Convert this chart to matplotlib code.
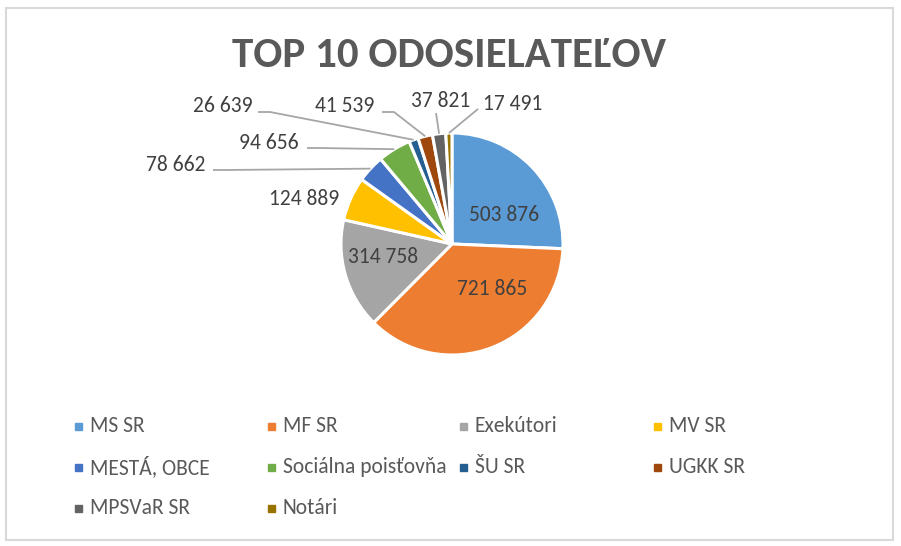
import matplotlib.pyplot as plt
import matplotlib.patches as mpatches
import numpy as np

# data
labels = ['MS SR', 'MF SR', 'Exekútori', 'MV SR', 'MESTÁ, OBCE',
          'Sociálna poisťovňa', 'ŠU SR', 'UGKK SR', 'MPSVaR SR', 'Notári']
values = [503876, 721865, 314758, 124889, 78662, 94656, 26639, 41539, 37821, 17491]
colors = ['#5B9BD5', '#ED7D31', '#A5A5A5', '#FFC000', '#4472C4',
          '#70AD47', '#255E91', '#9E480E', '#636363', '#997300']
value_text = [f'{v:,}'.replace(',', ' ') for v in values]

W, H = 901, 546
plt.rcParams['font.family'] = ['Carlito', 'DejaVu Sans']

fig = plt.figure(figsize=(W / 100, H / 100), dpi=100)
ax = fig.add_axes([0, 0, 1, 1])

cx, cy, r = 452, H - 244, 111
wedges, _ = ax.pie(values, colors=colors, startangle=90, counterclock=False,
                   center=(cx, cy), radius=r,
                   wedgeprops=dict(edgecolor='white', linewidth=2.2))
ax.set_xlim(0, W)
ax.set_ylim(0, H)
ax.set_aspect('equal')
ax.axis('off')

# chart border
ax.add_patch(mpatches.Rectangle((6, 6), W - 14, H - 14, fill=False,
                                edgecolor='#D9D9D9', linewidth=1.5))

ax.text(449, H - 67, 'TOP 10 ODOSIELATEĽOV', ha='center', va='baseline',
        fontsize=31, fontweight='bold', color='#595959')

lbl_color = '#404040'
fs = 15.5
# labels inside / next to the pie (pixel positions, y from top)
inside_pos = {0: (504, 215), 1: (492, 289), 2: (383, 257), 3: (304, 199)}
for i, (x, y) in inside_pos.items():
    ax.text(x, H - y, value_text[i], ha='center', va='center',
            fontsize=fs, color=lbl_color)

# outside labels with leader lines: text center, line start
outside = {
    4: ((176, 165), (213, 170)),
    5: ((269, 143), (307, 148)),
    6: ((223, 106), (258, 112)),
    7: ((345, 106), (382, 112)),
    8: ((441, 101), (436, 113)),
    9: ((513, 104), (478, 109)),
}
for i, ((tx, ty), (lx, ly)) in outside.items():
    ax.text(tx, H - ty, value_text[i], ha='center', va='center',
            fontsize=fs, color=lbl_color)
    w = wedges[i]
    ang = np.deg2rad((w.theta1 + w.theta2) / 2)
    ex, ey = cx + r * np.cos(ang), cy + r * np.sin(ang)
    if i in (8, 9):
        xs, ys = [lx, ex], [H - ly, ey]
    else:
        xs, ys = [lx, lx + 12, ex], [H - ly, H - ly, ey]
    ax.plot(xs, ys, color='#A6A6A6', linewidth=1.3, solid_capstyle='butt')

# legend, 4 equal columns
col_x = [78, 271, 463, 657]
row_y = [426, 467, 508]
for i, name in enumerate(labels):
    x = col_x[i % 4]
    y = H - row_y[i // 4]
    ax.add_patch(mpatches.Rectangle((x - 3.5, y - 3.5), 7, 7, color=colors[i]))
    ax.text(x + 12, y, name, ha='left', va='center', fontsize=fs,
            color='#595959')

fig.savefig('out.png', dpi=100)
